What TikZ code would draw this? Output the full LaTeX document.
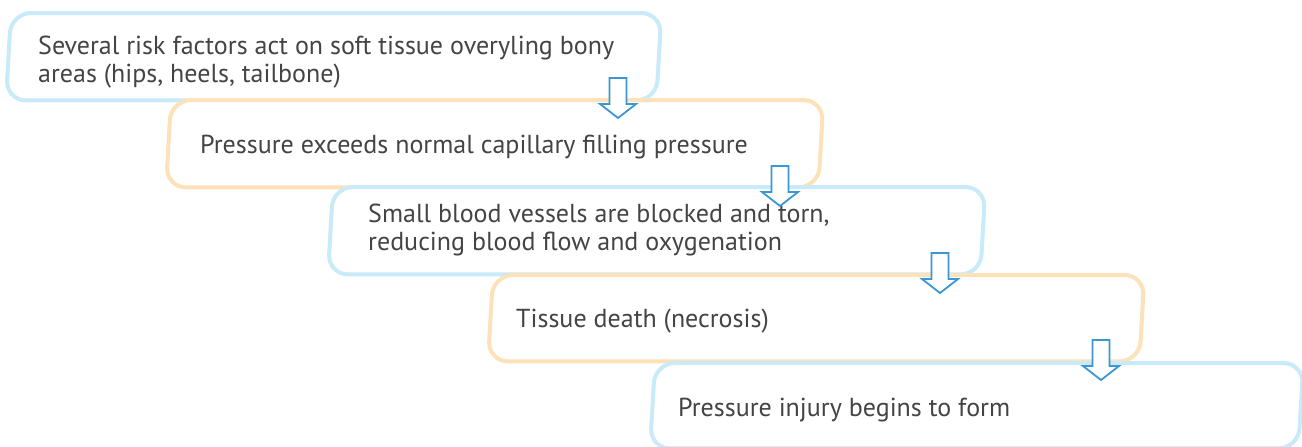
\documentclass[tikz,border=0pt]{standalone}
\usepackage{fontspec}
\setmainfont{PT Sans}
\definecolor{bluebd}{HTML}{C9EAF8}
\definecolor{orangebd}{HTML}{FDE1B9}
\definecolor{arrblue}{HTML}{3A96D4}
\definecolor{txtgray}{HTML}{444444}
\tikzset{
  boxarea/.style={draw=none, inner sep=0pt, anchor=north west},
  boxline/.style={line width=4pt, fill=white, rounded corners=20pt},
  bluebox/.style={boxline, draw=bluebd},
  orangebox/.style={boxline, draw=orangebd},
  boxtext/.style={anchor=west, inner sep=0pt, align=left, text=txtgray,
    font=\fontsize{26}{28}\selectfont},
  downarrow/.style={draw=arrblue, fill=white, line width=1.8pt, line join=miter},
}
\newcommand{\skewbox}[2]{%
  \path[#2] ([xshift=3pt]#1.north west) -- ([xshift=3pt]#1.north east)
    -- ([xshift=-2pt]#1.south east) -- ([xshift=-2pt]#1.south west) -- cycle;}
\newcommand{\downarr}[1]{%
  \draw[downarrow] (#1) ++(-8.5,0) -- ++(17,0) -- ++(0,26) -- ++(9.5,0)
    -- ++(-18,14) -- ++(-18,-14) -- ++(9.5,0) -- cycle;}
\begin{document}
\begin{tikzpicture}[x=1pt,y=-1pt]
\useasboundingbox (0,0) rectangle (1302,447);
\node[boxarea, minimum width=650pt, minimum height=87pt] (b1) at (8,13) {};
\node[boxarea, minimum width=652pt, minimum height=87pt] (b2) at (168,100) {};
\node[boxarea, minimum width=652pt, minimum height=87pt] (b3) at (330,187) {};
\node[boxarea, minimum width=651pt, minimum height=86pt] (b4) at (490,275) {};
\node[boxarea, minimum width=648pt, minimum height=85pt] (b5) at (652,363) {};
\skewbox{b1}{bluebox}
\node[boxtext] (t1) at (38,62) {Several risk factors act on soft tissue overyling bony\\areas (hips, heels, tailbone)};
\skewbox{b2}{orangebox}
\node[boxtext] (t2) at (200,147) {Pressure exceeds normal capillary filling pressure};
\skewbox{b3}{bluebox}
\node[boxtext] (t3) at (368,230) {Small blood vessels are blocked and torn,\\reducing blood flow and oxygenation};
\skewbox{b4}{orangebox}
\node[boxtext] (t4) at (516,321) {Tissue death (necrosis)};
\skewbox{b5}{bluebox}
\node[boxtext] (t5) at (678,410) {Pressure injury begins to form};
\coordinate (a1) at (618,78);
\coordinate (a2) at (780,166);
\coordinate (a3) at (940,253);
\coordinate (a4) at (1101,340);
\downarr{a1}
\downarr{a2}
\downarr{a3}
\downarr{a4}
\end{tikzpicture}
\end{document}
